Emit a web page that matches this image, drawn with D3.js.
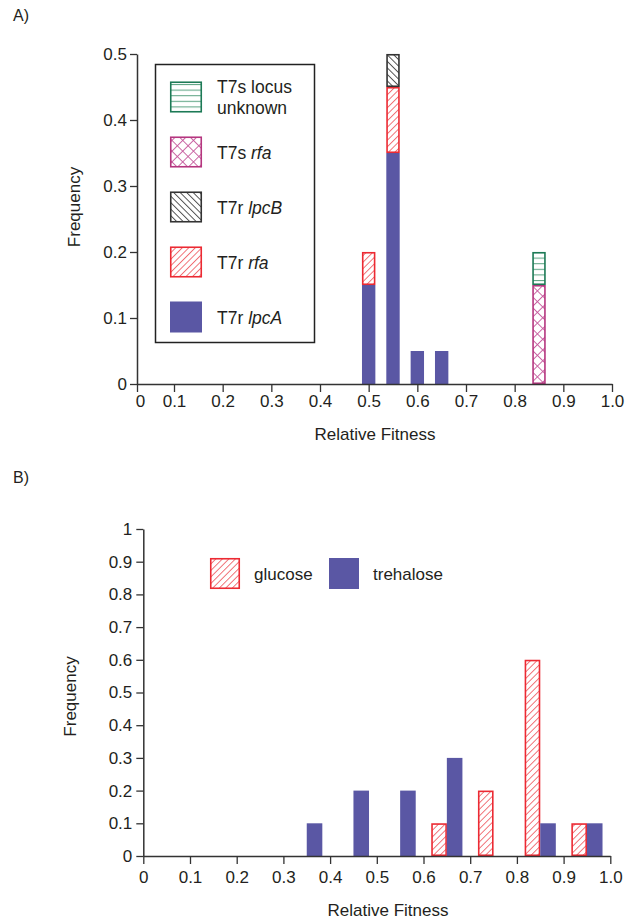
<!DOCTYPE html>
<html>
<head>
<meta charset="utf-8">
<script src="https://cdn.jsdelivr.net/npm/d3@7/dist/d3.min.js"></script>
<style>
  html, body { margin: 0; padding: 0; background: #fff; }
  svg { display: block; }
  text { font-family: "Liberation Sans", Arial, Helvetica, sans-serif; fill: #231f20; }
</style>
</head>
<body>
<svg id="chart" width="639" height="921"></svg>
<script>
// ---- Panel A: fitness classes of T7-resistant / sensitive mutants ----
const fitnessBinsA = [0.5, 0.55, 0.6, 0.65, 0.85];
const t7rLpcA      = [0.15, 0.35, 0.05, 0.05, 0];
const t7rRfa       = [0.05, 0.10, 0, 0, 0];
const t7rLpcB      = [0, 0.05, 0, 0, 0];
const t7sRfa       = [0, 0, 0, 0, 0.15];
const t7sUnknown   = [0, 0, 0, 0, 0.05];
const yTicksA = [0, 0.1, 0.2, 0.3, 0.4, 0.5];
const xTicksA = [0, 0.1, 0.2, 0.3, 0.4, 0.5, 0.6, 0.7, 0.8, 0.9, 1.0];

// ---- Panel B: glucose vs trehalose ----
const fitnessBinsB = [0.35, 0.45, 0.55, 0.65, 0.75, 0.85, 0.95];
const glucose      = [0, 0, 0, 0.1, 0.2, 0.6, 0.1];
const trehalose    = [0.1, 0.2, 0.2, 0.3, 0, 0.1, 0.1];
const yTicksB = [0, 0.1, 0.2, 0.3, 0.4, 0.5, 0.6, 0.7, 0.8, 0.9, 1];
const xTicksB = [0, 0.1, 0.2, 0.3, 0.4, 0.5, 0.6, 0.7, 0.8, 0.9, 1.0];

const svg = d3.select("#chart");
const defs = svg.append("defs");

const PURPLE = "#5a57a4";
const RED = "#ec2a33";
const MAGENTA = "#b5367f";
const GREEN = "#1d7a56";
const DARK = "#333";

// hatch patterns
function lines(id, color, spacing, angle, width) {
  const p = defs.append("pattern").attr("id", id)
    .attr("patternUnits", "userSpaceOnUse")
    .attr("width", spacing).attr("height", spacing)
    .attr("patternTransform", `rotate(${angle})`);
  p.append("rect").attr("width", spacing).attr("height", spacing).attr("fill", "#fff");
  p.append("line").attr("x1", 0.5).attr("y1", 0).attr("x2", 0.5).attr("y2", spacing)
    .attr("stroke", color).attr("stroke-width", width);
}
lines("hatchRed", "#f0646a", 4.6, 45, 0.9);
lines("hatchBlack", "#444", 4.6, -45, 0.9);
lines("hatchGreen", "#5fa585", 5.6, 90, 1.1);
(function () {
  const s = 7.6;
  const p = defs.append("pattern").attr("id", "crossMagenta")
    .attr("patternUnits", "userSpaceOnUse")
    .attr("width", s).attr("height", s)
    .attr("patternTransform", "rotate(45)");
  p.append("rect").attr("width", s).attr("height", s).attr("fill", "#fff");
  p.append("line").attr("x1", 0.5).attr("y1", 0).attr("x2", 0.5).attr("y2", s)
    .attr("stroke", "#c5579a").attr("stroke-width", 0.9);
  p.append("line").attr("x1", 0).attr("y1", 0.5).attr("x2", s).attr("y2", 0.5)
    .attr("stroke", "#c5579a").attr("stroke-width", 0.9);
})();

const styleA = {
  lpcA:    { fill: PURPLE, stroke: null },
  rfaR:    { fill: "url(#hatchRed)", stroke: RED },
  lpcB:    { fill: "url(#hatchBlack)", stroke: DARK },
  rfaS:    { fill: "url(#crossMagenta)", stroke: MAGENTA },
  unknown: { fill: "url(#hatchGreen)", stroke: GREEN }
};

function drawRect(g, x, y, w, h, st) {
  if (h <= 0) return;
  if (st.stroke) {
    g.append("rect").attr("x", x + 0.75).attr("y", y + 0.75)
      .attr("width", w - 1.5).attr("height", Math.max(0, h - 1.5))
      .attr("fill", st.fill).attr("stroke", st.stroke).attr("stroke-width", 1.6);
  } else {
    g.append("rect").attr("x", x).attr("y", y).attr("width", w).attr("height", h)
      .attr("fill", st.fill);
  }
}

function styleAxis(g) {
  g.selectAll(".domain").attr("stroke", DARK).attr("stroke-width", 1.5);
  g.selectAll(".tick line").attr("stroke", DARK).attr("stroke-width", 1.3);
  g.selectAll(".tick text").attr("font-size", 17)
    .attr("font-family", '"Liberation Sans", Arial, sans-serif').attr("fill", "#231f20");
}

// ================= Panel A =================
const xA = d3.scaleLinear().domain([0, 0.1, 1]).range([137, 174, 612]);
const yA = d3.scaleLinear().domain([0, 0.5]).range([384, 54]);

svg.append("text").attr("x", 13).attr("y", 21).attr("font-size", 16).text("A)");

const gA = svg.append("g");
const keysA = ["lpcA", "rfaR", "lpcB", "rfaS", "unknown"];
const rowsA = fitnessBinsA.map((f, i) => ({
  fitness: f, lpcA: t7rLpcA[i], rfaR: t7rRfa[i], lpcB: t7rLpcB[i],
  rfaS: t7sRfa[i], unknown: t7sUnknown[i]
}));
const stackedA = d3.stack().keys(keysA)(rowsA);
const halfW = (xA(0.55) - xA(0.5)) * 0.275;
stackedA.forEach(layer => {
  layer.forEach(d => {
    const cx = xA(d.data.fitness);
    const top = yA(d[1]), bot = yA(d[0]);
    drawRect(gA, cx - halfW, top, halfW * 2, bot - top, styleA[layer.key]);
  });
});

const axA_x = svg.append("g").attr("transform", `translate(0,${yA(0)})`)
  .call(d3.axisBottom(xA).tickValues(xTicksA).tickSize(8).tickPadding(3).tickSizeOuter(0)
    .tickFormat(d => d === 0 ? "0" : d3.format(".1f")(d)));
styleAxis(axA_x);
axA_x.select(".tick text").attr("dx", 3);

const axA_y = svg.append("g").attr("transform", `translate(${xA(0)},0)`)
  .call(d3.axisLeft(yA).tickValues(yTicksA).tickSize(7).tickPadding(3).tickSizeOuter(0)
    .tickFormat(d => d === 0 ? "0" : d3.format(".1f")(d)));
styleAxis(axA_y);

svg.append("text").attr("x", 375).attr("y", 440).attr("text-anchor", "middle")
  .attr("font-size", 17).text("Relative Fitness");
svg.append("text").attr("transform", `translate(80,${(yA(0) + yA(0.5)) / 2 - 12}) rotate(-90)`)
  .attr("text-anchor", "middle").attr("font-size", 17).text("Frequency");

// legend A
const legA = svg.append("g");
legA.append("rect").attr("x", 155.5).attr("y", 64.5).attr("width", 159).attr("height", 278)
  .attr("fill", "#fff").attr("stroke", "#222").attr("stroke-width", 1.5);
const legendA = [
  { key: "unknown", parts: [["T7s locus", false]], line2: "unknown" },
  { key: "rfaS", parts: [["T7s ", false], ["rfa", true]] },
  { key: "lpcB", parts: [["T7r ", false], ["lpcB", true]] },
  { key: "rfaR", parts: [["T7r ", false], ["rfa", true]] },
  { key: "lpcA", parts: [["T7r ", false], ["lpcA", true]] }
];
legendA.forEach((item, i) => {
  const cy = 97 + i * 55;
  drawRect(legA, 170, cy - 15.5, 32, 31, styleA[item.key]);
  const t = legA.append("text").attr("x", 217).attr("y", item.line2 ? cy - 4 : cy + 6.5)
    .attr("font-size", 17.5);
  item.parts.forEach(([s, it]) => {
    t.append("tspan").attr("font-style", it ? "italic" : "normal").text(s);
  });
  if (item.line2) {
    legA.append("text").attr("x", 217).attr("y", cy + 16.5).attr("font-size", 17.5).text(item.line2);
  }
});

// ================= Panel B =================
const xB = d3.scaleLinear().domain([0, 1]).range([143.3, 610.3]);
const yB = d3.scaleLinear().domain([0, 1]).range([856, 529]);

svg.append("text").attr("x", 13).attr("y", 483).attr("font-size", 16).text("B)");

const bandW = xB(1 / 30) - xB(0);
const sub = d3.scaleBand().domain(["glucose", "trehalose"]).range([-bandW, bandW]);
const styleB = {
  glucose: { fill: "url(#hatchRed)", stroke: RED },
  trehalose: { fill: PURPLE, stroke: null }
};
const gB = svg.append("g");
fitnessBinsB.forEach((f, i) => {
  [["glucose", glucose[i]], ["trehalose", trehalose[i]]].forEach(([k, v]) => {
    if (v <= 0) return;
    const x0 = xB(f) + sub(k);
    drawRect(gB, x0, yB(v), sub.bandwidth(), yB(0) - yB(v), styleB[k]);
  });
});

const axB_x = svg.append("g").attr("transform", `translate(0,${yB(0)})`)
  .call(d3.axisBottom(xB).tickValues(xTicksB).tickSize(8).tickPadding(7).tickSizeOuter(0)
    .tickFormat(d => d === 0 ? "0" : d3.format(".1f")(d)));
styleAxis(axB_x);

const axB_y = svg.append("g").attr("transform", `translate(${xB(0)},0)`)
  .call(d3.axisLeft(yB).tickValues(yTicksB).tickSize(7).tickPadding(4).tickSizeOuter(0)
    .tickFormat(d => (d === 0 || d === 1) ? String(d) : d3.format(".1f")(d)));
styleAxis(axB_y);

svg.append("text").attr("x", 388).attr("y", 916).attr("text-anchor", "middle")
  .attr("font-size", 17).text("Relative Fitness");
svg.append("text").attr("transform", `translate(76,${(yB(0) + yB(1)) / 2 + 4}) rotate(-90)`)
  .attr("text-anchor", "middle").attr("font-size", 17).text("Frequency");

// legend B
const legB = svg.append("g");
drawRect(legB, 210, 558, 30, 31, styleB.glucose);
legB.append("text").attr("x", 254).attr("y", 580).attr("font-size", 17).text("glucose");
drawRect(legB, 329, 558, 30, 31, styleB.trehalose);
legB.append("text").attr("x", 373).attr("y", 580).attr("font-size", 17).text("trehalose");
</script>
</body>
</html>
